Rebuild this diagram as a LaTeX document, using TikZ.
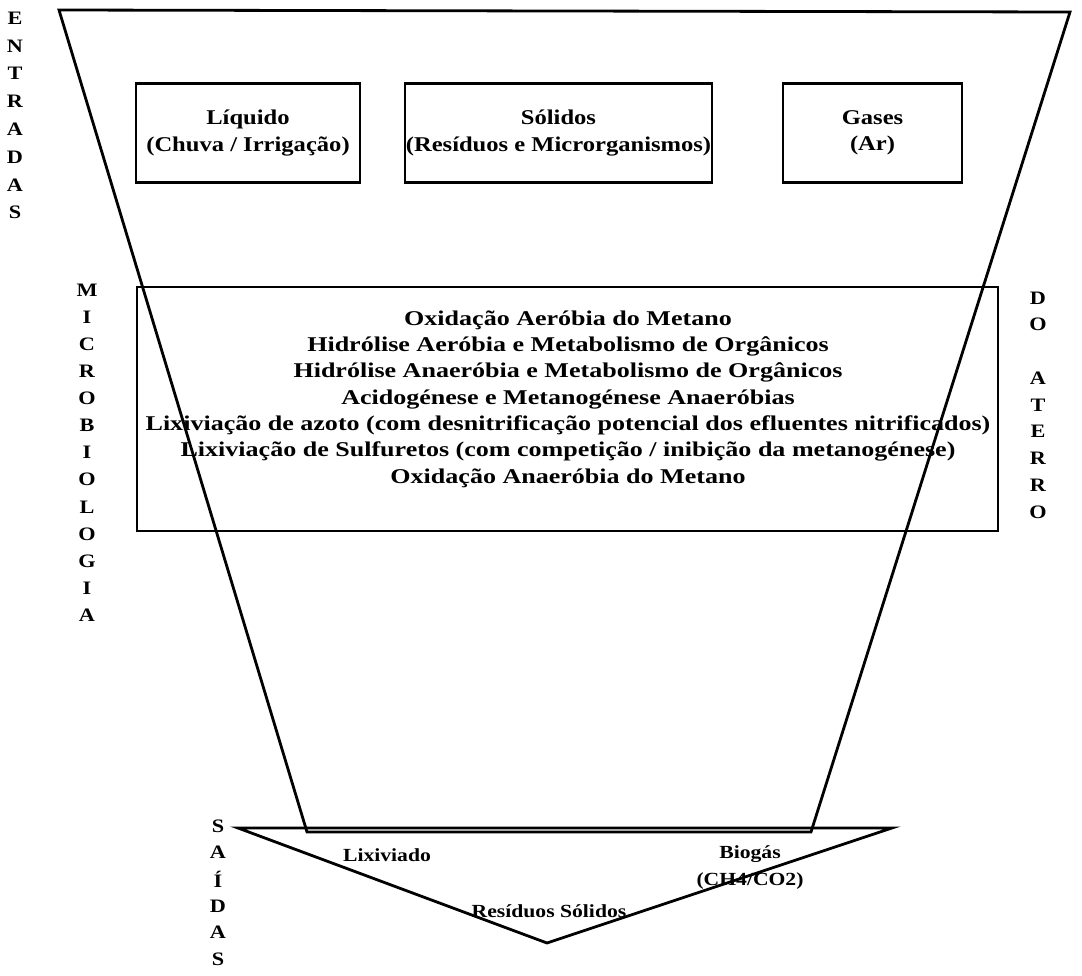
\documentclass[tikz,border=0pt]{standalone}
\usepackage{fontspec}
\setmainfont[FakeStretch=1.17]{Liberation Serif}
\newfontfamily\widef[FakeStretch=1.24]{Liberation Serif}
\begin{document}
\begin{tikzpicture}[x=1pt,y=-1pt]
\tikzset{
  edge/.style={draw, line width=2.8pt, line join=miter},
  box/.style={draw, line width=2.2pt, inner sep=0pt},
  lbl/.style={font=\bfseries\fontsize{21}{26.3}\selectfont, align=center, inner sep=0pt},
  mlbl/.style={font=\widef\bfseries\fontsize{21}{26.3}\selectfont, align=center, inner sep=0pt},
  slbl/.style={font=\bfseries\fontsize{18.5}{27}\selectfont, align=center, inner sep=0pt},
  vlet/.style={font=\bfseries\fontsize{19}{19}\selectfont, inner sep=0pt},
}
\useasboundingbox (0,0) rectangle (1082,975);
% funnel
\coordinate (ftl) at (59,10);
\coordinate (ftr) at (1070,12);
\coordinate (fbr) at (811,832);
\coordinate (fbl) at (307,832);
\draw[edge] (ftl) -- (ftr) -- (fbr) -- (fbl) -- cycle;
% output triangle
\coordinate (tl) at (238,828);
\coordinate (tr) at (892,828);
\coordinate (ta) at (547,943);
\draw[edge] (tl) -- (tr) -- (ta) -- cycle;
% input boxes
\node[box, minimum width=224pt, minimum height=99pt] (liq) at (248,133) {};
\node[lbl] (liqt) at (liq) {Líquido\\(Chuva / Irrigação)};
\node[box, minimum width=307pt, minimum height=99pt] (sol) at (558.5,133) {};
\node[lbl] (solt) at (sol) {Sólidos\\(Resíduos e Microrganismos)};
\node[box, minimum width=179pt, minimum height=99pt] (gas) at (872.5,133) {};
\node[lbl] (gast) at (gas) {Gases\\(Ar)};
% microbiology box
\node[box, minimum width=861pt, minimum height=244pt] (mic) at (567.5,409) {};
\node[mlbl] (mict) at (568,399) {Oxidação Aeróbia do Metano\\
Hidrólise Aeróbia e Metabolismo de Orgânicos\\
Hidrólise Anaeróbia e Metabolismo de Orgânicos\\
Acidogénese e Metanogénese Anaeróbias\\
Lixiviação de azoto (com desnitrificação potencial dos efluentes nitrificados)\\
Lixiviação de Sulfuretos (com competição / inibição da metanogénese)\\
Oxidação Anaeróbia do Metano};
% outputs
\node[slbl] (lix) at (387,855) {Lixiviado};
\node[slbl] (bio) at (750,868) {Biogás\\(CH4/CO2)};
\node[slbl] (res) at (549,911) {Resíduos Sólidos};
% vertical labels
\foreach \l [count=\i] in {E,N,T,R,A,D,A,S}
  \node[vlet] (ent\i) at (15,{18+27.8*(\i-1)}) {\l};
\foreach \l [count=\i] in {M,I,C,R,O,B,I,O,L,O,G,I,A}
  \node[vlet] (mic\i) at (87,{290+27.1*(\i-1)}) {\l};
\foreach \l/\k in {D/0,O/1,A/3,T/4,E/5,R/6,R/7,O/8}
  \node[vlet] (ate\k) at (1038,{298+26.75*\k}) {\l};
\foreach \l [count=\i] in {S,A,Í,D,A,S}
  \node[vlet] (sai\i) at (218,{826+26.6*(\i-1)}) {\l};
\end{tikzpicture}
\end{document}
